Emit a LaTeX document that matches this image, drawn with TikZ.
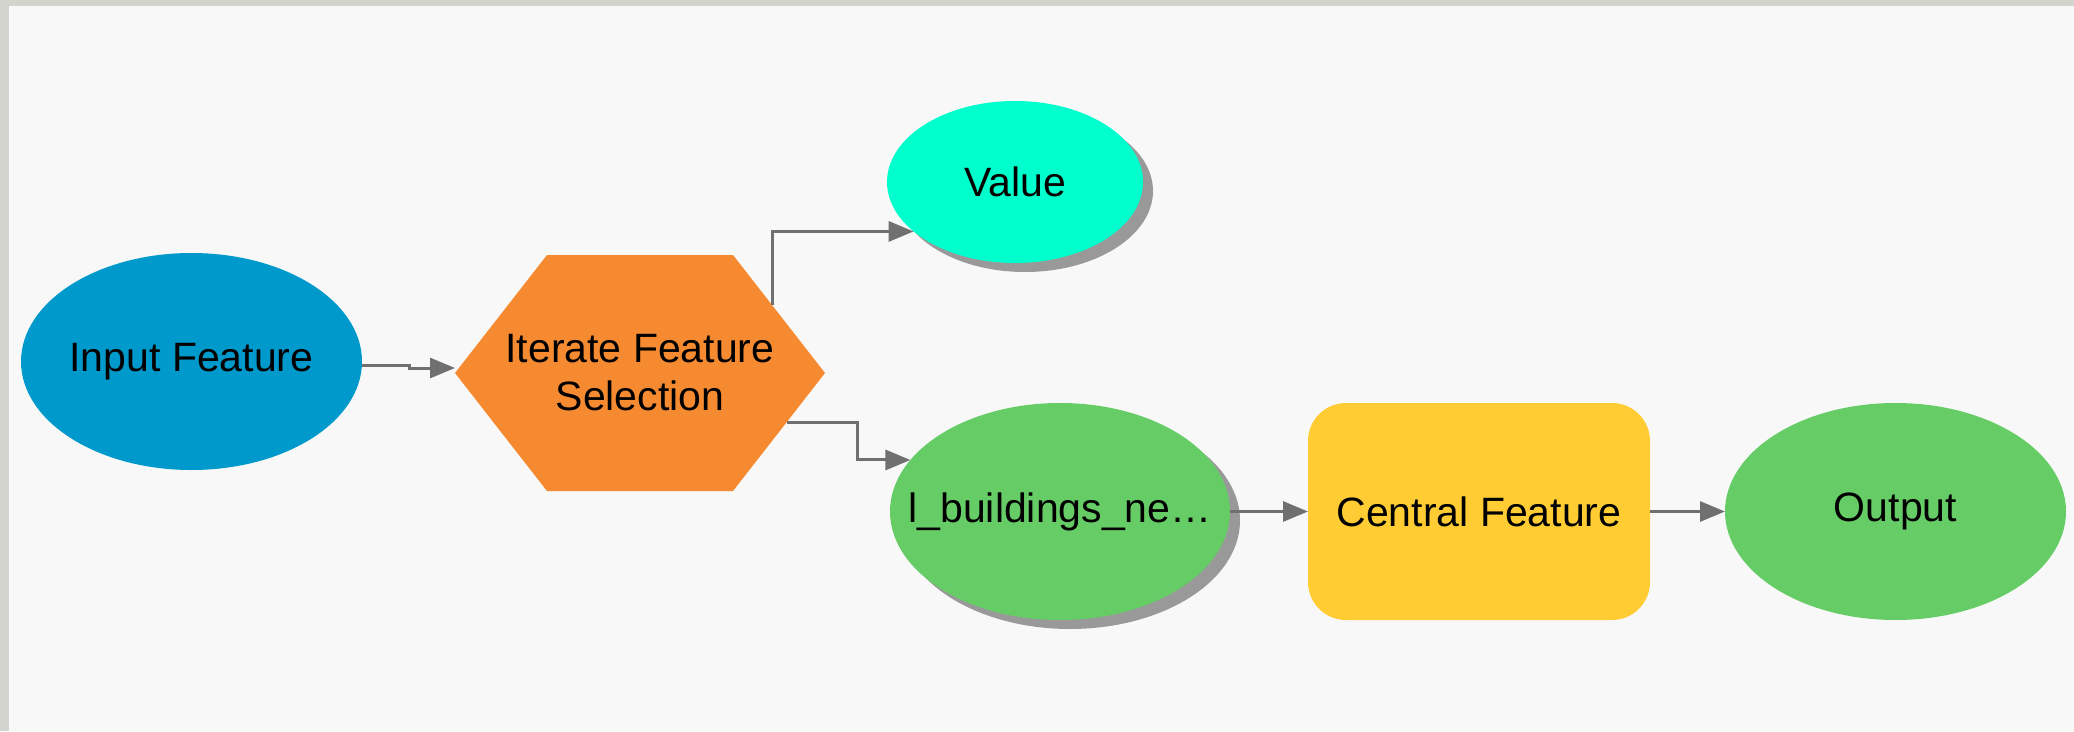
\documentclass[tikz,border=0pt]{standalone}
\usepackage{fontspec}
\setmainfont{Liberation Sans}
\usetikzlibrary{arrows.meta,shadows,calc,shapes.geometric}
\definecolor{bgc}{HTML}{F7F8F7}
\definecolor{framec}{HTML}{D4D4CE}
\definecolor{inblue}{HTML}{0099CC}
\definecolor{hexorange}{HTML}{F68A30}
\definecolor{valcyan}{HTML}{00FFCC}
\definecolor{okgreen}{HTML}{66CC66}
\definecolor{toolyellow}{HTML}{FFCC33}
\definecolor{connc}{HTML}{707070}
\definecolor{shadowc}{HTML}{999999}
\begin{document}
\begin{tikzpicture}[x=1pt,y=-1pt,
  every node/.style={font=\fontsize{41pt}{48pt}\selectfont, text=black, inner sep=0pt, outer sep=0pt},
  ell/.style={ellipse, minimum width=341pt, minimum height=217pt},
  shad/.style={drop shadow={shadow xshift=10pt, shadow yshift=-9pt, fill=shadowc, opacity=1}},
  toolbox/.style={rectangle, rounded corners=38pt, minimum width=342pt, minimum height=217pt},
  conn/.style={draw=connc, line width=3pt, -{Triangle[length=25pt,width=20pt]}}
]
\useasboundingbox (0,0) rectangle (2074,731);
\fill[framec] (0,0) rectangle (2074,731);
\fill[bgc] (9,6) rectangle (2074,731);

% nodes
\node[ell, fill=inblue] (inp) at (191.5,361.5) {\makebox[0pt]{Input Feature}};

\coordinate (itc) at (640,373);
\fill[hexorange] ($(itc)+(-185,0)$) -- ($(itc)+(-93,-118)$) -- ($(itc)+(93,-118)$)
  -- ($(itc)+(185,0)$) -- ($(itc)+(93,118)$) -- ($(itc)+(-93,118)$) -- cycle;
\node[minimum width=370pt, minimum height=236pt, align=center] (it) at (itc) {Iterate Feature\\Selection};

\node[ell, shad, fill=valcyan, minimum width=256pt, minimum height=162pt] (val) at (1015,182) {\makebox[0pt]{Value}};
\node[ell, shad, fill=okgreen, minimum width=340pt] (lb) at (1060,511.5) {\makebox[0pt]{l\_buildings\_ne…}};
\node[toolbox, fill=toolyellow] (cf) at (1479,511.5) {Central Feature};
\node[ell, fill=okgreen] (out) at (1895.5,511.5) {\makebox[0pt]{Output}};

% edge points on the hexagon
\coordinate (itA) at ($(it.center)+(132,-68)$);
\coordinate (itB) at ($(it.center)+(147,49)$);

% connectors
\draw[conn] ([yshift=-3.5pt]inp.east) -- ++(47,0) -- ++(0,3) -- ([yshift=5pt]it.west);
\draw[conn] (itA) |- (val.206);
\draw[conn] (itB) -- ++(70,0) |- (lb.161);
\draw[conn] (lb) -- (cf);
\draw[conn] (cf) -- (out);
\end{tikzpicture}
\end{document}
